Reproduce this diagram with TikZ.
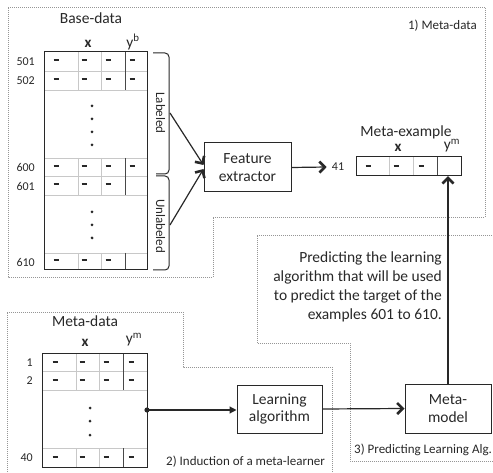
\documentclass[tikz,border=0pt]{standalone}
\usepackage{fontspec}
\setmainfont{Carlito}
\usetikzlibrary{arrows.meta}
\definecolor{ink}{RGB}{40,40,40}
\definecolor{gridc}{RGB}{200,200,200}
\definecolor{dotc}{RGB}{150,150,150}
\newcommand\cellmk[2]{\draw[cellmark] (#1-2.5,#2) -- (#1+2.5,#2);}
\begin{document}
\begin{tikzpicture}[x=1pt,y=-1pt,
  region/.style={draw=dotc, line width=0.9pt, dash pattern=on 0.9pt off 1.1pt},
  outer/.style={draw=ink, line width=1pt},
  inner/.style={draw=gridc, line width=0.8pt},
  ysep/.style={draw=ink!85, line width=1pt},
  cellmark/.style={draw=ink, line width=2pt},
  tdot/.style={fill=ink, draw=none},
  box/.style={draw=ink, line width=1pt, align=center, font=\fontsize{15.5}{17.5}\selectfont, inner sep=0pt, text=ink},
  lbl/.style={font=\fontsize{15.5}{17}\selectfont, text=ink, inner sep=0pt},
  hdr/.style={font=\fontsize{15}{17}\selectfont\bfseries, text=ink, inner sep=0pt},
  small/.style={font=\fontsize{13}{15}\selectfont, text=ink, inner sep=0pt},
  rowlbl/.style={font=\fontsize{12}{14}\selectfont, text=ink, inner sep=0pt, anchor=east},
  conn/.style={draw=ink, line width=1.2pt, -{Straight Barb[length=5.5pt,width=11pt,line width=2.6pt]}},
  brace/.style={draw=ink, line width=1pt, rounded corners=4pt}
]
\useasboundingbox (0,0) rectangle (493,473);

% ---------- dotted regions ----------
\draw[region] (8,7) -- (485,7) -- (485,217) -- (213,217) -- (213,277) -- (8,277) -- cycle;
\draw[region] (500,235) -- (257,235) -- (257,343) -- (350,343) -- (350,461) -- (500,461);
\draw[region] (332,480) -- (332,367) -- (183,367) -- (183,312) -- (7,312) -- (7,480);

\node[small, anchor=east] (r1) at (477,26) {1) Meta-data};
\node[small, anchor=west] (r2) at (166,462) {2) Induction of a meta-learner};
\node[small, anchor=west] (r3) at (354,450) {3) Predicting Learning Alg.};

% ---------- Base-data table ----------
\node[lbl] (bd) at (91,18) {Base-data};
\node[hdr] (bx) at (88,44) {x};
\node[lbl] (by) at (133,42) {y\textsuperscript{b}};
\foreach \y in {71,90,158,176,195,253} \draw[inner] (44,\y) -- (147,\y);
\foreach \a/\b in {52/90,158/195,253/270} {
  \draw[inner] (78,\a) -- (78,\b);
  \draw[inner] (101,\a) -- (101,\b);
  \draw[ysep] (125,\a) -- (125,\b);
}
\draw[outer] (44,52) rectangle (147,270);
\foreach \y in {60.5,79.5,166} { \cellmk{56}{\y} \cellmk{84}{\y} \cellmk{108}{\y} \cellmk{132}{\y} }
\foreach \y in {184.5,260.5} { \cellmk{56}{\y} \cellmk{84}{\y} \cellmk{108}{\y} }
\foreach \y in {106,119,132,145} \fill[tdot] (92,\y) circle (1.5);
\foreach \y in {212,225,238} \fill[tdot] (92,\y) circle (1.5);
\node[rowlbl] (l501) at (35,62) {501};
\node[rowlbl] (l502) at (35,81) {502};
\node[rowlbl] (l600) at (35,167) {600};
\node[rowlbl] (l601) at (35,186) {601};
\node[rowlbl] (l610) at (35,262) {610};

% braces
\draw[brace] (153,53) -- (169,53) -- (169,174) -- (156,174);
\draw[brace] (156,176) -- (169,176) -- (169,270) -- (153,270);
\node[small, rotate=-90] (labd) at (160.5,113) {Labeled};
\node[small, rotate=-90] (unlabd) at (160.5,226) {Unlabeled};
\coordinate (lab) at (170,113);
\coordinate (unl) at (170,225);

% ---------- Feature extractor ----------
\node[box, minimum width=87pt, minimum height=49pt] (fe) at (247.5,167.5) {Feature\\extractor};
\draw[conn] (lab) -- ([yshift=2.5pt]fe.west);
\draw[conn] (unl) -- ([yshift=-1.5pt]fe.west);

% ---------- Meta-example ----------
\node[lbl] (mex) at (406,132) {Meta-example};
\node[hdr] (mx) at (398,148) {x};
\node[lbl] (my) at (452,146) {y\textsuperscript{m}};
\draw[inner] (389,157) -- (389,176);
\draw[inner] (413,157) -- (413,176);
\draw[ysep] (437,157) -- (437,176);
\draw[outer] (356,157) rectangle (461,176);
\node[inner sep=0pt, minimum width=24pt, minimum height=19pt] (ycell) at (449,166.5) {};
\cellmk{368}{166} \cellmk{396}{166} \cellmk{421}{166}
\node[rowlbl, anchor=center] (n41) at (338,167) {41};
\draw[conn] (fe.east) -- ([xshift=-5pt]n41.west);

% ---------- Predicting text ----------
\node[lbl, align=right, anchor=east, font=\fontsize{15.5}{19}\selectfont] (pred) at (442,286.5)
  {Predicting the learning\\algorithm that will be used\\to predict the target of the\\examples 601 to 610.};

% ---------- Meta-data table ----------
\node[lbl] (mdl) at (85,321) {Meta-data};
\node[hdr] (mdx) at (85,343) {x};
\node[lbl] (mdy) at (134,340) {y\textsuperscript{m}};
\foreach \y in {371,390,448} \draw[inner] (42,\y) -- (147,\y);
\foreach \a/\b in {353/390,448/467} {
  \draw[inner] (76,\a) -- (76,\b);
  \draw[inner] (99,\a) -- (99,\b);
  \draw[ysep] (123,\a) -- (123,\b);
}
\draw[outer] (42,353) rectangle (147,467);
\foreach \y in {361.5,380,457} { \cellmk{55}{\y} \cellmk{82}{\y} \cellmk{106}{\y} \cellmk{131}{\y} }
\foreach \y in {408,421,435} \fill[tdot] (90,\y) circle (1.5);
\node[rowlbl] (m1) at (33,363) {1};
\node[rowlbl] (m2) at (33,381) {2};
\node[rowlbl] (m40) at (33,458) {40};
\coordinate (mdout) at (147,410);

% ---------- Learning algorithm / Meta-model ----------
\node[box, minimum width=85pt, minimum height=48pt] (la) at (279.5,409) {Learning\\algorithm};
\node[box, minimum width=86pt, minimum height=49pt] (mm) at (448,408.5) {Meta-\\model};
\fill[tdot] (mdout) circle (2.6);
\draw[draw=ink, line width=1.2pt, -{Triangle[length=7pt,width=7pt]}] (mdout) -- (mdout -| la.west);
\draw[conn] (la.east) -- (mm.west);
\draw[conn] (mm.north) -- (mm.north |- ycell.south);
\end{tikzpicture}
\end{document}
